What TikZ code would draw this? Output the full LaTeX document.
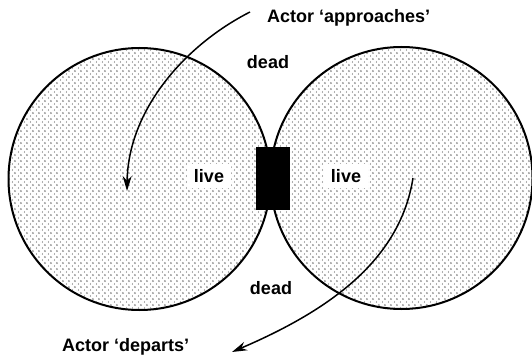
\documentclass[tikz,border=0pt]{standalone}
\usepackage{fontspec}
\setmainfont{Liberation Sans}
\usetikzlibrary{arrows.meta,patterns.meta}
\tikzdeclarepattern{
  name=halftone,
  type=colored,
  bounding box={(0pt,0pt) and (6.4pt,6.4pt)},
  tile size={(6.4pt,6.4pt)},
  code={
    \fill[gray!85] (0pt,0pt) circle (1.2pt);
    \fill[gray!85] (6.4pt,0pt) circle (1.2pt);
    \fill[gray!85] (0pt,6.4pt) circle (1.2pt);
    \fill[gray!85] (6.4pt,6.4pt) circle (1.2pt);
    \fill[gray!85] (3.2pt,3.2pt) circle (1.2pt);
  }
}
\tikzset{
  zone/.style={circle, draw, line width=2pt, pattern=halftone, minimum size=262pt, inner sep=0pt},
  lbl/.style={font=\bfseries\fontsize{18}{20}\selectfont, inner sep=1pt},
  livelbl/.style={lbl, fill=white, inner xsep=7pt, inner ysep=5pt},
  gate/.style={fill=black, draw=black, minimum width=33pt, minimum height=62pt, inner sep=0pt},
  path/.style={line width=1.5pt, -{Stealth[length=15pt,width=9pt]}}
}
\begin{document}
\begin{tikzpicture}[x=1pt,y=-1pt]
\useasboundingbox (0,0) rectangle (532,358);
\node[zone] (L) at (139.5,179) {};
\node[zone] (R) at (401.5,178) {};
\node[gate] (G) at (272.5,178) {};
\node[livelbl] (liveL) at (209,176) {live};
\node[livelbl] (liveR) at (346,176) {live};
\node[lbl, anchor=west] (appr) at (266,18) {Actor ‘approaches’};
\node[lbl] (deadT) at (268,62) {dead};
\node[lbl] (deadB) at (271,288) {dead};
\node[lbl, anchor=west] (dep) at (61,347) {Actor ‘departs’};
\coordinate (a0) at (250,12);
\coordinate (a1) at (127,191);
\coordinate (d0) at (413,178);
\coordinate (d1) at (232,352);
\draw[path] (a0) .. controls (185,45) and (128,110) .. (a1);
\draw[path] (d0) .. controls (400,260) and (330,310) .. (d1);
\end{tikzpicture}
\end{document}
